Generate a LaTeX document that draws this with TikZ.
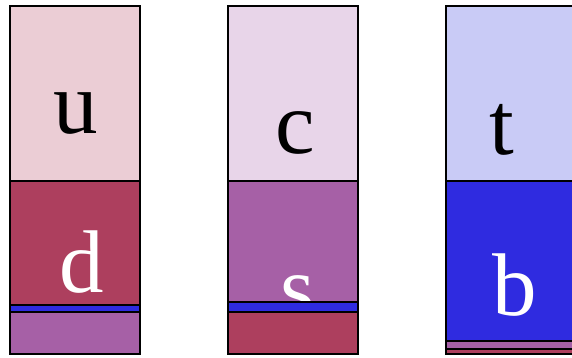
\documentclass[tikz,border=0pt]{standalone}
\usepackage{fontspec}
\setmainfont{Liberation Serif}
\definecolor{upink}{HTML}{EBCDD5}
\definecolor{dred}{HTML}{AD3F5E}
\definecolor{spurple}{HTML}{A660A6}
\definecolor{bblue}{HTML}{2F2BE0}
\definecolor{clilac}{HTML}{E8D5E9}
\definecolor{tblue}{HTML}{C9CBF6}
\tikzset{
  band/.style={draw=black, line width=1.8pt},
  quark/.style={anchor=base, inner sep=0pt, font=\fontsize{89}{89}\selectfont},
}
\begin{document}
\begin{tikzpicture}[x=1pt,y=-1pt]
\useasboundingbox (0,0) rectangle (572,357);
\clip (0,0) rectangle (572,357);
% column 1
\draw[band, fill=upink] (10,6) rectangle (140,181);
\draw[band, fill=dred] (10,181) rectangle (140,305);
\node[quark] (u) at (76,133) {u};
\node[quark, text=white] (d) at (82,292) {d};
\draw[band, fill=bblue] (10,305) rectangle (140,312);
\draw[band, fill=spurple] (10,312) rectangle (140,354);
% column 2
\draw[band, fill=clilac] (228,6) rectangle (358,181);
\draw[band, fill=spurple] (228,181) rectangle (358,302);
\node[quark] (c) at (295,153) {c};
\node[quark, text=white] (s) at (298,317) {s};
\draw[band, fill=bblue] (228,302) rectangle (358,312);
\draw[band, fill=dred] (228,312) rectangle (358,354);
% column 3
\draw[band, fill=tblue] (446,6) rectangle (576,181);
\draw[band, fill=bblue] (446,181) rectangle (576,341);
\node[quark] (t) at (502,154) {t};
\node[quark, text=white] (b) at (515,315) {b};
\draw[band, fill=spurple] (446,341) rectangle (576,349);
\draw[band, fill=dred] (446,349) rectangle (576,354);
\end{tikzpicture}
\end{document}
